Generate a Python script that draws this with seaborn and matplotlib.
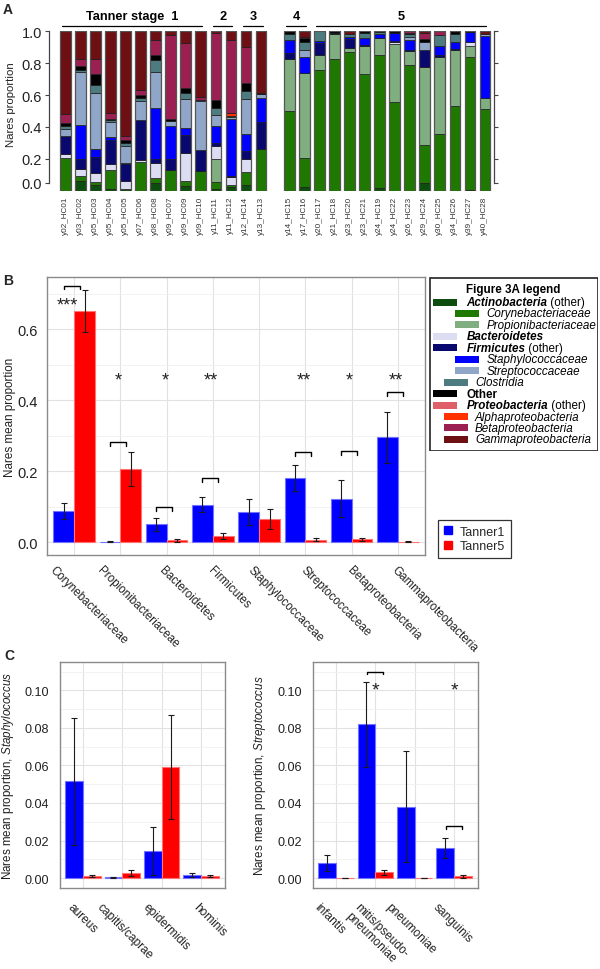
import numpy as np
import pandas as pd
import matplotlib
matplotlib.use("Agg")
import matplotlib.pyplot as plt
import seaborn as sns
from matplotlib.transforms import ScaledTranslation, blended_transform_factory
from matplotlib.patches import Rectangle
from matplotlib.lines import Line2D
from matplotlib.ticker import MultipleLocator

# ======================= DATA =======================
# ---- Panel A: per-sample taxon proportions ----
samples = ["y02_HC01", "y03_HC02", "y05_HC03", "y05_HC04", "y05_HC05", "y07_HC06",
           "y08_HC08", "y09_HC07", "y09_HC09", "y09_HC10", "y11_HC11", "y11_HC12",
           "y12_HC14", "y13_HC13", "y14_HC15", "y17_HC16", "y20_HC17", "y21_HC18",
           "y23_HC20", "y23_HC21", "y24_HC19", "y24_HC22", "y26_HC23", "y29_HC24",
           "y30_HC25", "y34_HC26", "y39_HC27", "y40_HC28"]
stages = [1]*10 + [2]*2 + [3]*2 + [4]*2 + [5]*12
stage_labels = ["Tanner stage  1", "2", "3", "4", "5"]

actino_other = [0, .065, .035, .012, .010, 0, .048, 0, .030, 0, .015, .025, .035, 0,
                0, .025, 0, 0, 0, 0, .020, 0, 0, .050, 0, 0, .008, 0]
coryne = [.208, .027, .020, .121, 0, .181, .031, .129, .035, .125, .040, .010, .083, .265,
          .498, .179, .758, .823, .869, .729, .827, .556, .785, .235, .358, .529, .829, .510]
propioni = [0, 0, 0, 0, 0, 0, 0, 0, 0, 0, .144, 0, 0, 0,
            .329, .536, .090, .157, .027, .177, .112, .365, .088, .490, .479, .354, .069, .071]
bacteroidetes = [.025, .046, .058, .035, .054, .010, .098, 0, .175, 0, .083, .052, .079, 0,
                 0, 0, 0, 0, 0, 0, 0, .010, 0, 0, 0, 0, .027, 0]
firmicutes = [.109, .062, .102, .148, .104, .250, .025, .071, .108, .133, .021, .006, .050, .167,
              .035, 0, .077, .010, .056, .006, 0, .006, .006, .104, .010, .006, 0, 0]
staph = [0, .215, .046, .019, .005, 0, .314, .204, .046, 0, .102, .358, .110, .152,
         .083, .098, .013, 0, .010, .046, .020, .052, .067, 0, .058, .044, .058, .385]
strepto = [.048, .327, .354, .094, .108, .119, .226, .033, .183, .304, .071, .010, .219, .025,
           0, .042, 0, 0, 0, 0, 0, 0, .017, .052, 0, 0, .005, .017]
clostridia = [.018, .015, .050, .012, .021, .023, .077, 0, .038, .008, .042, .006, .046, 0,
              .038, .054, .062, 0, .021, .029, .013, 0, .021, 0, .073, .050, 0, 0]
other = [.015, .027, .067, .008, .017, .015, .033, .012, .027, 0, .052, 0, .052, .006,
         .017, .025, 0, .010, 0, .013, .008, .011, .006, .017, 0, .017, .004, 0]
proteo_other = [.005, 0, 0, 0, 0, 0, 0, 0, 0, 0, 0, 0, 0, 0,
                0, 0, 0, 0, 0, 0, 0, 0, 0, 0, 0, 0, 0, 0]
alpha = [0, 0, 0, 0, 0, 0, 0, 0, 0, 0, 0, .019, 0, 0,
         0, 0, 0, 0, 0, 0, 0, 0, 0, 0, 0, 0, 0, 0]
beta = [.055, .040, .094, .038, .025, .035, .094, .523, .283, .017, .418, .456, .229, 0,
        0, .004, 0, 0, 0, 0, 0, 0, .010, .042, .022, 0, 0, 0]
gamma = [.517, .176, .174, .513, .656, .367, .054, .028, .075, .413, .012, .058, .097, .385,
         0, .037, 0, 0, .017, 0, 0, 0, 0, .010, 0, 0, 0, .017]

taxa_values = [actino_other, coryne, propioni, bacteroidetes, firmicutes, staph, strepto,
               clostridia, other, proteo_other, alpha, beta, gamma]
taxa_main = ["Actinobacteria", "Corynebacteriaceae", "Propionibacteriaceae", "Bacteroidetes",
             "Firmicutes", "Staphylococcaceae", "Streptococcaceae", "Clostridia", "Other",
             "Proteobacteria", "Alphaproteobacteria", "Betaproteobacteria", "Gammaproteobacteria"]
taxa_suffix = [" (other)", "", "", "", " (other)", "", "", "", "", " (other)", "", "", ""]
taxa_level = [0, 2, 2, 0, 0, 2, 2, 1, 0, 0, 1, 1, 1]
taxa_colors = ["#0d4d0d", "#1f7800", "#80ae80", "#dcdcf2", "#08086e", "#0000ff", "#8fa6c8",
               "#4c7c80", "#000000", "#e0606a", "#ff3300", "#9c1f52", "#6e0f14"]

# ---- Panel B ----
b_cats = ["Corynebacteriaceae", "Propionibacteriaceae", "Bacteroidetes", "Firmicutes",
          "Staphylococcaceae", "Streptococcaceae", "Betaproteobacteria", "Gammaproteobacteria"]
b_t1 = [0.087, 0.002, 0.051, 0.106, 0.086, 0.181, 0.122, 0.296]
b_t1_se = [0.023, 0.001, 0.018, 0.020, 0.037, 0.037, 0.052, 0.072]
b_t5 = [0.651, 0.206, 0.005, 0.018, 0.065, 0.007, 0.008, 0.002]
b_t5_se = [0.060, 0.049, 0.003, 0.009, 0.029, 0.004, 0.004, 0.001]
b_sig = ["***", "*", "*", "**", "", "**", "*", "**"]
b_sig_y = [0.683, 0.471, 0.471, 0.471, 0, 0.471, 0.471, 0.471]
b_bracket_y = [0.723, 0.282, 0.099, 0.181, None, 0.254, 0.257, 0.423]

# ---- Panel C ----
c_staph_cats = ["aureus", "capitis/caprae", "epidermidis", "hominis"]
c_staph_t1 = [0.0515, 0.0005, 0.0144, 0.0016]
c_staph_t1_se = [0.0340, 0.0003, 0.0130, 0.0013]
c_staph_t5 = [0.0011, 0.0027, 0.0591, 0.0009]
c_staph_t5_se = [0.0007, 0.0015, 0.0275, 0.0005]
c_staph_sig = ["", "", "", ""]
c_staph_bracket_y = [None, None, None, None]

c_strep_cats = ["infantis", "mitis/pseudo-\npneumoniae", "pneumoniae", "sanguinis"]
c_strep_t1 = [0.0080, 0.0819, 0.0380, 0.0158]
c_strep_t1_se = [0.0044, 0.0227, 0.0297, 0.0053]
c_strep_t5 = [0.0001, 0.0030, 0.0001, 0.0009]
c_strep_t5_se = [0.0, 0.0015, 0.0, 0.0008]
c_strep_sig = ["", "*", "", "*"]
c_strep_bracket_y = [None, 0.110, None, 0.0275]
c_sig_y = 0.1034

groups = ["Tanner1", "Tanner5"]
group_colors = {"Tanner1": "#0000ff", "Tanner5": "#ff0000"}

# ======================= STYLE =======================
sns.set_style("white")
plt.rcParams["font.family"] = ["Liberation Sans", "DejaVu Sans"]
plt.rcParams["mathtext.fontset"] = "custom"
plt.rcParams["mathtext.rm"] = "Liberation Sans"
plt.rcParams["mathtext.it"] = "Liberation Sans:italic"
plt.rcParams["mathtext.bf"] = "Liberation Sans:bold"

W, H = 600, 970
fig = plt.figure(figsize=(W / 100, H / 100), dpi=100)


def ax_px(x0, y0, x1, y1):
    return fig.add_axes([x0 / W, 1 - y1 / H, (x1 - x0) / W, (y1 - y0) / H])


TXT = "#222222"

# ======================= PANEL A =======================
axA = ax_px(49, 32, 494, 192)
pos = np.array([i + (0.87 if s >= 4 else 0.0) for i, s in enumerate(stages)])
bw = 0.71
bottom = np.zeros(len(samples))
for vals, col in zip(taxa_values, taxa_colors):
    v = np.array(vals, dtype=float)
    axA.bar(pos, v, bottom=bottom, width=bw, color=col,
            edgecolor="#1a1a1a", linewidth=np.where(v > 0, 0.5, 0.0))
    bottom += v
axA.bar(pos, bottom, width=bw, fill=False, edgecolor="#555555", linewidth=0.9)
axA.set_xlim(-1.08, 28.47)
axA.set_ylim(0, 1)
for sp in ["top", "bottom"]:
    axA.spines[sp].set_visible(False)
for sp in ["left", "right"]:
    axA.spines[sp].set_bounds(0.05, 1.0)
    axA.spines[sp].set_color("#444444")
    axA.spines[sp].set_linewidth(0.9)
axA.set_yticks([0.05, 0.2, 0.4, 0.6, 0.8, 1.0])
axA.set_yticklabels(["0.0", "0.2", "0.4", "0.6", "0.8", "1.0"], fontsize=10.5, color=TXT)
axA.tick_params(axis="y", which="both", left=True, right=True, length=3, width=0.8,
                color="#444444", pad=2)
axA.set_xticks(pos)
axA.set_xticklabels(samples, rotation=90, fontsize=5.9, color="#333333")
axA.tick_params(axis="x", length=0, pad=3.5)
axA.set_ylabel("Nares proportion", fontsize=8.2, color=TXT)
axA.yaxis.set_label_coords((16 - 49) / 445, 0.546)

# stage headers
for k, st in enumerate([1, 2, 3, 4, 5]):
    p = pos[np.array(stages) == st]
    x0, x1 = p.min() - 0.2, p.max() + 0.1
    axA.plot([x0, x1], [1.031, 1.031], color="black", lw=0.9, clip_on=False)
    axA.text((x0 + x1) / 2, 1.095, stage_labels[k], ha="center", va="center",
             fontsize=9.2, fontweight="bold", color="black")

fig.text(8 / W, 1 - 10 / H, "A", fontsize=10, fontweight="bold", ha="center", va="center")
fig.text(8 / W, 1 - 281 / H, "B", fontsize=10, fontweight="bold", ha="center", va="center")
fig.text(9 / W, 1 - 656 / H, "C", fontsize=10, fontweight="bold", ha="center", va="center")


# ======================= helpers for B / C =======================
def lighten(c, amt=0.45):
    c = np.array(matplotlib.colors.to_rgb(c))
    return tuple(c + (1 - c) * amt)


def grouped_bars(ax, cats, t1, t1se, t5, t5se):
    df = pd.DataFrame({"taxon": cats * 2,
                       "group": [groups[0]] * len(cats) + [groups[1]] * len(cats),
                       "value": list(t1) + list(t5)})
    sns.barplot(data=df, x="taxon", y="value", hue="group", order=cats, hue_order=groups,
                palette=group_colors, width=0.9, gap=0, saturation=1, errorbar=None,
                legend=False, ax=ax, zorder=2)
    for b in ax.patches:
        b.set_edgecolor(lighten(b.get_facecolor()))
        b.set_linewidth(0.8)
    x = np.arange(len(cats))
    ax.errorbar(x - 0.225, t1, yerr=t1se, fmt="none", ecolor="#1a1a1a", elinewidth=0.8,
                capsize=2, capthick=0.8, zorder=3)
    ax.errorbar(x + 0.225, t5, yerr=t5se, fmt="none", ecolor="#1a1a1a", elinewidth=0.8,
                capsize=2, capthick=0.8, zorder=3)
    ax.set_xlabel("")
    ax.set_axisbelow(True)
    ax.grid(True, which="major", color="#e2e2e2", lw=0.8)
    ax.grid(True, which="minor", axis="y", color="#f0f0f0", lw=0.6)
    for sp in ax.spines.values():
        sp.set_color("#8a8a8a")
        sp.set_linewidth(1.0)
    ax.tick_params(axis="both", which="major", length=3, color="#8a8a8a", width=0.8)
    ax.tick_params(axis="y", which="minor", length=0)
    ax.set_xticklabels([])


def rotated_labels(ax, cats, offsets_px, dy_px, fs):
    tr = blended_transform_factory(ax.transData, ax.transAxes)
    for i, (c, off) in enumerate(zip(cats, offsets_px)):
        t = tr + ScaledTranslation(off / 100, -dy_px / 100, fig.dpi_scale_trans)
        ax.text(i, 0, c, transform=t, rotation=-45, rotation_mode="anchor",
                ha="left", va="top", fontsize=fs, color=TXT, linespacing=1.0)


def sig_marks(ax, sigs, sig_y, brackets, xoff, legdrop, fs):
    for i, (s, sy, by) in enumerate(zip(sigs, sig_y, brackets)):
        if by is not None:
            x0, x1 = i - 0.23 + xoff, i + 0.12 + xoff
            ax.plot([x0, x0, x1, x1], [by - legdrop, by, by, by - legdrop],
                    color="black", lw=1.0, zorder=4)
        if s:
            t = ax.transData + ScaledTranslation(0, -0.55 * fs / 72, fig.dpi_scale_trans)
            ax.text(i + (-0.14 if len(s) == 3 else -0.04), sy, s, transform=t,
                    ha="center", va="baseline", fontsize=fs, color="#222222", zorder=5)


# ======================= PANEL B =======================
axB = ax_px(47, 278, 425, 556)
grouped_bars(axB, b_cats, b_t1, b_t1_se, b_t5, b_t5_se)
axB.set_xlim(-0.59, 7.59)
axB.set_ylim(-0.036, 0.747)
axB.set_yticks([0.0, 0.2, 0.4, 0.6])
axB.set_yticklabels(["0.0", "0.2", "0.4", "0.6"], fontsize=10.5, color=TXT)
axB.yaxis.set_minor_locator(MultipleLocator(0.1))
axB.set_ylabel("Nares mean proportion", fontsize=8.4, color=TXT)
axB.yaxis.set_label_coords((16 - 47) / 378, 0.5)
rotated_labels(axB, b_cats, [-18, -17, -1, 1, -5, 2, 2, 0], 9, 8.4)
sig_marks(axB, b_sig, b_sig_y, b_bracket_y, 0.0, 0.01, 13)

# Tanner legend
handles = [Line2D([], [], marker="s", ls="", color=group_colors[g], markersize=6) for g in groups]
leg = fig.legend(handles, groups, loc="upper left", bbox_to_anchor=(438 / W, 1 - 521 / H),
                 frameon=True, fancybox=False, fontsize=9, handlelength=0.7,
                 handletextpad=0.6, borderpad=0.45, labelspacing=0.2, borderaxespad=0)
leg.get_frame().set_edgecolor("black")
leg.get_frame().set_linewidth(0.9)

# Figure 3A legend (drawn in pixel coordinates of its own box)
axL = ax_px(429, 278, 598, 452)
axL.set_xlim(0, 169)
axL.set_ylim(174, 0)
axL.axis("off")
axL.add_patch(Rectangle((0.5, 0.5), 168, 173, fill=False, edgecolor="#222222", lw=1.2))
axL.text(84.5, 12, "Figure 3A legend", ha="center", va="center", fontsize=8.4,
         fontweight="bold", color="black")
patch_x = {0: 4, 1: 15, 2: 25.7}
text_x = {0: 37.3, 1: 46, 2: 57.3}
for k, (name, suf, lev, col) in enumerate(zip(taxa_main, taxa_suffix, taxa_level, taxa_colors)):
    yc = 25 + k * 11.45
    axL.add_patch(Rectangle((patch_x[lev], yc - 3.5), 24.3, 7, facecolor=col, edgecolor="none"))
    weight = "bold" if lev == 0 else "normal"
    style = "normal" if name == "Other" else "italic"
    t = axL.text(text_x[lev], yc, name, ha="left", va="center", fontsize=8.4,
                 fontweight=weight, fontstyle=style, color="black")
    if suf:
        axL.annotate(suf, xy=(1, 0), xycoords=t, ha="left", va="bottom", fontsize=8.4,
                     color="black")

# ======================= PANEL C =======================
c_left = ax_px(60, 663, 225, 889)
c_right = ax_px(313, 663, 478, 889)
for ax, cats, t1, t1se, t5, t5se, genus, offs, sigs, brs, lab_right in [
        (c_left, c_staph_cats, c_staph_t1, c_staph_t1_se, c_staph_t5, c_staph_t5_se,
         "Staphylococcus", [-9, -19, -13, -2], c_staph_sig, c_staph_bracket_y, 16),
        (c_right, c_strep_cats, c_strep_t1, c_strep_t1_se, c_strep_t5, c_strep_t5_se,
         "Streptococcus", [-15, -15, -23, -15], c_strep_sig, c_strep_bracket_y, 268)]:
    grouped_bars(ax, cats, t1, t1se, t5, t5se)
    ax.set_xlim(-0.585, 3.61)
    ax.set_ylim(-0.0053, 0.1151)
    ax.set_yticks([0.0, 0.02, 0.04, 0.06, 0.08, 0.10])
    ax.set_yticklabels(["0.00", "0.02", "0.04", "0.06", "0.08", "0.10"], fontsize=9.1, color=TXT)
    ax.yaxis.set_minor_locator(MultipleLocator(0.01))
    ax.tick_params(axis="y", which="major", pad=5)
    ax.set_ylabel("Nares mean proportion, $\\it{" + genus + "}$", fontsize=8.4, color=TXT)
    x_axes_left = ax.get_position().x0 * W
    ax.yaxis.set_label_coords((lab_right - x_axes_left) / 165, 0.5)
    rotated_labels(ax, cats, offs, 13, 8.6)
    for i, (s, by) in enumerate(zip(sigs, brs)):
        if by is not None:
            x0, x1 = i - 0.2, i + 0.2
            ax.plot([x0, x0, x1, x1], [by - 0.0012, by, by, by - 0.0012],
                    color="black", lw=1.0, zorder=4)
        if s:
            fs = 14
            t = ax.transData + ScaledTranslation(0, -0.55 * fs / 72, fig.dpi_scale_trans)
            ax.text(i, c_sig_y, s, transform=t, ha="center", va="baseline", fontsize=fs,
                    color="#222222", zorder=5)

fig.savefig("out.png", dpi=100)
